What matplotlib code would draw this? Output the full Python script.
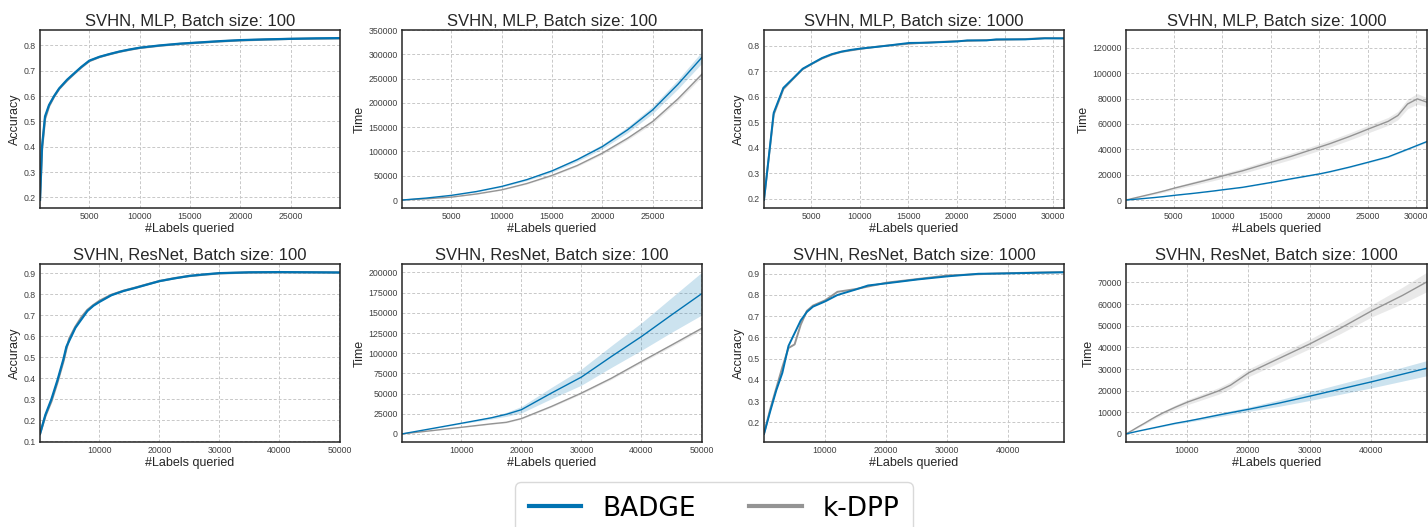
import numpy as np
import matplotlib.pyplot as plt
from matplotlib.ticker import MultipleLocator
from matplotlib.lines import Line2D

plt.rcParams['font.family'] = ['Liberation Sans', 'DejaVu Sans']

BLUE = '#0173b2'
GRAY = '#949494'

# ---- SVHN, MLP, batch 100: accuracy
x_mlp100 = [100, 300, 600, 1000, 1500, 2000, 2800, 3500, 4200, 5000, 6000, 7000, 8000,
            9000, 10000, 12000, 14000, 16000, 18000, 20000, 22500, 25000, 27500, 29900]
acc_badge_mlp100 = [0.19, 0.40, 0.52, 0.565, 0.60, 0.63, 0.665, 0.69, 0.715, 0.74, 0.755, 0.766,
                    0.776, 0.784, 0.791, 0.800, 0.807, 0.812, 0.817, 0.821, 0.824, 0.826, 0.828, 0.829]
acc_kdpp_mlp100 = [0.19, 0.39, 0.51, 0.56, 0.598, 0.628, 0.662, 0.688, 0.713, 0.738, 0.754, 0.765,
                   0.775, 0.783, 0.790, 0.799, 0.806, 0.811, 0.816, 0.820, 0.823, 0.826, 0.827, 0.828]

# ---- SVHN, MLP, batch 100: time
xt_mlp100 = [100, 2500, 5000, 7500, 10000, 12500, 15000, 17500, 20000, 22500, 25000, 27500, 29900]
t_badge_mlp100 = [0, 4000, 9600, 17500, 28000, 42000, 60000, 83000, 110000, 144500, 185600, 238000, 293800]
t_badge_mlp100_ci = [0, 300, 600, 1000, 1500, 2000, 2800, 3500, 4500, 6000, 7500, 9500, 12000]
t_kdpp_mlp100 = [0, 2500, 6000, 12500, 21000, 34000, 50700, 71000, 96500, 127000, 161600, 208000, 259000]
t_kdpp_mlp100_ci = [0, 200, 400, 600, 900, 1200, 1600, 2000, 2600, 3200, 3800, 4500, 5000]

# ---- SVHN, MLP, batch 1000
x_mlp1000 = [100, 1100, 2100, 3100, 4100, 5100, 6100, 7100, 8100, 9100, 10100, 12100, 15100,
             17100, 20100, 21100, 23100, 24100, 25100, 27100, 28100, 29100, 31100]
acc_badge_mlp1000 = [0.196, 0.537, 0.635, 0.672, 0.710, 0.731, 0.752, 0.767, 0.777, 0.784, 0.789,
                     0.797, 0.811, 0.812, 0.817, 0.821, 0.821, 0.825, 0.825, 0.825, 0.827, 0.829, 0.829]
acc_kdpp_mlp1000 = [0.196, 0.530, 0.630, 0.670, 0.708, 0.730, 0.750, 0.765, 0.776, 0.782, 0.788,
                    0.798, 0.808, 0.813, 0.818, 0.819, 0.822, 0.823, 0.824, 0.826, 0.828, 0.830, 0.829]
t_badge_mlp1000 = [0, 600, 1300, 2000, 2800, 3700, 4500, 5300, 6200, 7100, 8100, 10000, 13900,
                   16700, 20700, 22300, 25900, 27900, 29900, 34000, 37000, 40000, 46100]
t_badge_mlp1000_ci = [0, 50, 80, 100, 120, 150, 170, 190, 210, 230, 250, 280, 330,
                      360, 400, 420, 460, 480, 500, 540, 560, 580, 620]
t_kdpp_mlp1000 = [0, 1800, 3600, 5400, 7300, 9400, 11300, 13200, 15100, 17100, 19100, 23000, 29900,
                  34400, 41900, 44400, 50000, 53000, 56100, 62000, 66600, 75700, 77100]
t_kdpp_mlp1000_ci = [0, 400, 600, 800, 1000, 1200, 1300, 1500, 1600, 1800, 1900, 2100, 2400,
                     2500, 2600, 2700, 2800, 2900, 3000, 3100, 3300, 3800, 3500]
# peak of k-DPP near 30100 (between 29100 and 31100)
x_mlp1000_kdpp = x_mlp1000[:-1] + [30100, 31100]
t_kdpp_mlp1000 = t_kdpp_mlp1000[:-1] + [79700, 77100]
t_kdpp_mlp1000_ci = t_kdpp_mlp1000_ci[:-1] + [4200, 3500]

# ---- SVHN, ResNet, batch 100
x_res100 = [100, 1000, 2000, 3000, 4000, 4500, 5000, 6000, 7000, 8000, 9000, 10000, 12000, 14000,
            16000, 18000, 20000, 22500, 25000, 27500, 30000, 35000, 40000, 45000, 50100]
acc_badge_res100 = [0.135, 0.226, 0.30, 0.39, 0.49, 0.55, 0.58, 0.64, 0.68, 0.72, 0.745, 0.763,
                    0.795, 0.815, 0.830, 0.846, 0.862, 0.875, 0.887, 0.894, 0.900, 0.904, 0.905,
                    0.904, 0.903]
acc_kdpp_res100 = [0.135, 0.22, 0.29, 0.38, 0.48, 0.54, 0.59, 0.645, 0.69, 0.725, 0.748, 0.768,
                   0.797, 0.816, 0.831, 0.847, 0.862, 0.876, 0.886, 0.893, 0.899, 0.903, 0.904,
                   0.904, 0.903]
xt_res100 = [100, 5000, 10000, 15000, 17500, 20000, 25000, 30000, 35000, 40000, 45000, 50100]
t_badge_res100 = [0, 6500, 13200, 20000, 24300, 30000, 50600, 70400, 95900, 120600, 147300, 174000]
t_badge_res100_ci = [0, 300, 700, 1500, 2500, 4000, 7000, 10000, 13500, 17000, 21500, 26500]
t_kdpp_res100 = [0, 4000, 8200, 12500, 14400, 19000, 34000, 50600, 69000, 89700, 110000, 131000]
t_kdpp_res100_ci = [0, 200, 400, 600, 700, 800, 1000, 1200, 1400, 1600, 1800, 2000]

# ---- SVHN, ResNet, batch 1000
x_res1000 = [100, 1100, 2100, 3100, 4100, 5100, 6100, 7100, 8100, 10100, 12100, 15100, 17100,
             20100, 25100, 30100, 35100, 40100, 45100, 49100]
acc_badge_res1000 = [0.145, 0.25, 0.35, 0.433, 0.56, 0.62, 0.68, 0.72, 0.745, 0.770, 0.800, 0.826,
                     0.845, 0.855, 0.873, 0.888, 0.900, 0.902, 0.905, 0.907]
acc_kdpp_res1000 = [0.145, 0.26, 0.36, 0.46, 0.55, 0.567, 0.66, 0.725, 0.75, 0.775, 0.815, 0.828,
                    0.840, 0.858, 0.875, 0.892, 0.898, 0.903, 0.906, 0.908]
t_badge_res1000 = [0, 650, 1300, 1900, 2500, 3100, 3700, 4300, 4900, 5900, 7000, 8700, 9800,
                   11400, 14300, 17500, 20800, 24100, 27600, 30400]
t_badge_res1000_ci = [0, 50, 100, 150, 200, 250, 300, 350, 400, 500, 600, 800, 900,
                      1000, 1500, 2000, 2400, 2800, 3200, 3500]
t_kdpp_res1000 = [0, 1600, 3300, 4900, 6600, 8200, 9700, 11000, 12300, 14700, 16700, 19800, 22500,
                  28300, 35000, 41700, 49000, 56900, 64000, 70300]
t_kdpp_res1000_ci = [0, 200, 400, 500, 600, 700, 800, 900, 1000, 1200, 1300, 1500, 1600,
                     1800, 2000, 2200, 2500, 2800, 3800, 4500]

titles = ['SVHN, MLP, Batch size: 100', 'SVHN, MLP, Batch size: 100',
          'SVHN, MLP, Batch size: 1000', 'SVHN, MLP, Batch size: 1000',
          'SVHN, ResNet, Batch size: 100', 'SVHN, ResNet, Batch size: 100',
          'SVHN, ResNet, Batch size: 1000', 'SVHN, ResNet, Batch size: 1000']

W, H = 1428, 527
fig = plt.figure(figsize=(W / 100, H / 100), dpi=100)

lefts = [40, 402, 764, 1126]
tops = [30, 264]
axes = []
for r in range(2):
    for c in range(4):
        w = 301 if c == 3 else 300
        ax = fig.add_axes([lefts[c] / W, 1 - (tops[r] + 178) / H, w / W, 178 / H])
        axes.append(ax)


def style(ax, title, ylabel, xstep, ystep):
    ax.set_title(title, fontsize=12, color='#262626', pad=3)
    ax.set_xlabel('#Labels queried', fontsize=9, color='#262626', labelpad=1)
    ax.set_ylabel(ylabel, fontsize=9, color='#262626', labelpad=2)
    ax.xaxis.set_major_locator(MultipleLocator(xstep))
    ax.yaxis.set_major_locator(MultipleLocator(ystep))
    ax.tick_params(axis='both', length=0, labelsize=6.3, labelcolor='#404040', pad=3)
    ax.grid(True, color='#c8c8c8', linestyle=(0, (3, 2)), linewidth=0.7)
    ax.set_axisbelow(True)
    for s in ax.spines.values():
        s.set_color('#262626')
        s.set_linewidth(1.1)


def acc_panel(ax, x, badge, kdpp, lw=1.6):
    ax.plot(x, kdpp, color=GRAY, lw=lw)
    ax.plot(x, badge, color=BLUE, lw=lw)
    ax.set_xlim(x[0], x[-1])


def time_panel(ax, xb, badge, bci, xk, kdpp, kci):
    badge, bci = np.array(badge), np.array(bci)
    kdpp, kci = np.array(kdpp), np.array(kci)
    ax.fill_between(xk, kdpp - kci, kdpp + kci, color=GRAY, alpha=0.2, lw=0)
    ax.fill_between(xb, badge - bci, badge + bci, color=BLUE, alpha=0.2, lw=0)
    ax.plot(xk, kdpp, color=GRAY, lw=1.0)
    ax.plot(xb, badge, color=BLUE, lw=1.0)
    ax.set_xlim(xb[0], xb[-1])


acc_panel(axes[0], x_mlp100, acc_badge_mlp100, acc_kdpp_mlp100)
style(axes[0], titles[0], 'Accuracy', 5000, 0.1)

time_panel(axes[1], xt_mlp100, t_badge_mlp100, t_badge_mlp100_ci,
           xt_mlp100, t_kdpp_mlp100, t_kdpp_mlp100_ci)
axes[1].set_ylim(-16400, 350000)
style(axes[1], titles[1], 'Time', 5000, 50000)

acc_panel(axes[2], x_mlp1000, acc_badge_mlp1000, acc_kdpp_mlp1000, lw=1.4)
style(axes[2], titles[2], 'Accuracy', 5000, 0.1)

time_panel(axes[3], x_mlp1000, t_badge_mlp1000, t_badge_mlp1000_ci,
           x_mlp1000_kdpp, t_kdpp_mlp1000, t_kdpp_mlp1000_ci)
axes[3].set_ylim(-6300, 134000)
style(axes[3], titles[3], 'Time', 5000, 20000)

acc_panel(axes[4], x_res100, acc_badge_res100, acc_kdpp_res100)
style(axes[4], titles[4], 'Accuracy', 10000, 0.1)

time_panel(axes[5], xt_res100, t_badge_res100, t_badge_res100_ci,
           xt_res100, t_kdpp_res100, t_kdpp_res100_ci)
style(axes[5], titles[5], 'Time', 10000, 25000)

acc_panel(axes[6], x_res1000, acc_badge_res1000, acc_kdpp_res1000, lw=1.4)
style(axes[6], titles[6], 'Accuracy', 10000, 0.1)

time_panel(axes[7], x_res1000, t_badge_res1000, t_badge_res1000_ci,
           x_res1000, t_kdpp_res1000, t_kdpp_res1000_ci)
style(axes[7], titles[7], 'Time', 10000, 10000)

handles = [Line2D([], [], color=BLUE, lw=3), Line2D([], [], color=GRAY, lw=3)]
fig.legend(handles, ['BADGE', 'k-DPP'], loc='center', bbox_to_anchor=(0.5, 0.035),
           ncol=2, frameon=True, fancybox=True, edgecolor='#d0d0d0',
           prop={'family': 'DejaVu Sans', 'size': 19}, handlelength=2.0,
           handletextpad=0.8, columnspacing=2.0, borderpad=0.5)

fig.savefig('out.png', dpi=100)
